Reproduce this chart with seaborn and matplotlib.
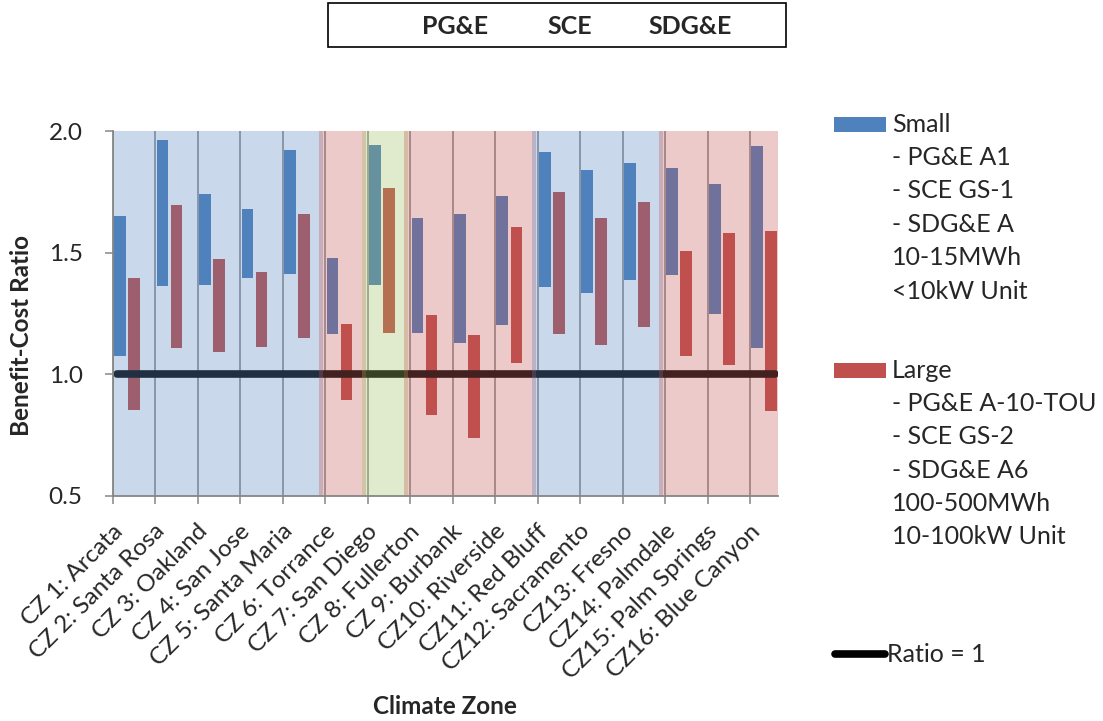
import numpy as np
import pandas as pd
import matplotlib
matplotlib.use("Agg")
import matplotlib.pyplot as plt
import matplotlib.transforms as mtransforms
from matplotlib.patches import Rectangle
from matplotlib.lines import Line2D
import seaborn as sns

# ---------------- data ----------------
zones = ["CZ 1: Arcata", "CZ 2: Santa Rosa", "CZ 3: Oakland", "CZ 4: San Jose",
         "CZ 5: Santa Maria", "CZ 6: Torrance", "CZ 7: San Diego", "CZ 8: Fullerton",
         "CZ 9: Burbank", "CZ10: Riverside", "CZ11: Red Bluff", "CZ12: Sacramento",
         "CZ13: Fresno", "CZ14: Palmdale", "CZ15: Palm Springs", "CZ16: Blue Canyon"]
utility = ["PG&E", "PG&E", "PG&E", "PG&E", "PG&E", "SCE", "SDG&E", "SCE",
           "SCE", "SCE", "PG&E", "PG&E", "PG&E", "SCE", "SCE", "SCE"]
small_low = [1.075, 1.363, 1.366, 1.394, 1.411, 1.164, 1.368, 1.170,
             1.128, 1.203, 1.357, 1.335, 1.388, 1.407, 1.248, 1.109]
small_high = [1.651, 1.962, 1.740, 1.680, 1.921, 1.478, 1.941, 1.644,
              1.659, 1.733, 1.914, 1.839, 1.870, 1.848, 1.781, 1.937]
large_low = [0.854, 1.109, 1.092, 1.112, 1.150, 0.895, 1.170, 0.834,
             0.739, 1.047, 1.166, 1.121, 1.195, 1.076, 1.039, 0.850]
large_high = [1.395, 1.695, 1.473, 1.420, 1.658, 1.206, 1.765, 1.243,
              1.161, 1.604, 1.748, 1.641, 1.707, 1.506, 1.580, 1.588]
ratio_one = 1.0
y_ticks = [0.5, 1.0, 1.5, 2.0]
utility_names = ["PG&E", "SCE", "SDG&E"]
small_legend = ["Small", "- PG&E A1", "- SCE GS-1", "- SDG&E A", "10-15MWh", "<10kW Unit"]
large_legend = ["Large", "- PG&E A-10-TOU", "- SCE GS-2", "- SDG&E A6", "100-500MWh", "10-100kW Unit"]
ratio_label = "Ratio = 1"

# ---------------- style ----------------
sns.set_theme(style="white")
plt.rcParams["font.family"] = ["Lato", "DejaVu Sans"]

BLUE = "#4F81BD"
RED = "#C0504D"
GREEN = "#9BBB59"
GRAY = "#868686"
util_color = {"PG&E": BLUE, "SCE": RED, "SDG&E": GREEN}

W, H = 1103, 721
fig = plt.figure(figsize=(W / 100, H / 100), dpi=100)
ax = fig.add_axes([113 / W, 1 - 496 / H, 665 / W, 365 / H])

x = np.arange(len(zones))
s_lo, s_hi = np.array(small_low), np.array(small_high)
l_lo, l_hi = np.array(large_low), np.array(large_high)

df_small = pd.DataFrame({"pos": x - 0.335, "span": s_hi - s_lo})
df_large = pd.DataFrame({"pos": x - 0.005, "span": l_hi - l_lo})

sns.barplot(data=df_small, x="pos", y="span", bottom=s_lo, native_scale=True,
            width=0.28, color=BLUE, saturation=1, errorbar=None, linewidth=0,
            zorder=2, ax=ax)
sns.barplot(data=df_large, x="pos", y="span", bottom=l_lo, native_scale=True,
            width=0.28, color=RED, saturation=1, errorbar=None, linewidth=0,
            zorder=2, ax=ax)

xmin, xmax = -0.5, 15.15
ax.set_xlim(xmin, xmax)
ax.set_ylim(0.5, 2.0)

# ratio = 1 line
ax.axhline(ratio_one, xmin=0.006, xmax=0.995, color="#0d0d0d", lw=5.5,
           solid_capstyle="round", zorder=3)

# utility overlay bands (contiguous runs)
runs = []
start = 0
for i in range(1, len(utility) + 1):
    if i == len(utility) or utility[i] != utility[start]:
        runs.append((start, i - 1, utility[start]))
        start = i
for a, b, u in runs:
    lo = max(a - 0.65, xmin)
    hi = min(b + 0.45, xmax)
    ax.axvspan(lo, hi, color=util_color[u], alpha=0.3, lw=0, zorder=4)

# axes styling
for side in ["top", "right"]:
    ax.spines[side].set_visible(False)
for side in ["left", "bottom"]:
    ax.spines[side].set_color(GRAY)
    ax.spines[side].set_linewidth(1.3)
    ax.spines[side].set_zorder(5)

ax.set_yticks(y_ticks)
ax.set_yticklabels([f"{v:.1f}" for v in y_ticks], fontsize=17.5)
ax.tick_params(axis="y", direction="out", length=5.8, width=1.1, color=GRAY,
               pad=16, left=True)

ax.set_xticks(x)
ax.set_xticklabels(zones, fontsize=17.5, rotation=45, ha="right", va="center",
                   rotation_mode="anchor")
ax.tick_params(axis="x", which="major", length=0, pad=23)
ax.set_xticks(np.arange(-0.5, 15.0, 1.0), minor=True)
ax.tick_params(axis="x", which="minor", direction="out", length=5.5, width=1.1,
               color=GRAY, bottom=True)
ax.grid(False)
ax.grid(which="minor", axis="x", color=GRAY, lw=1.1)
ax.set_axisbelow(True)
shift = mtransforms.ScaledTranslation(-15 / 100, 0, fig.dpi_scale_trans)
for lab in ax.get_xticklabels():
    lab.set_transform(lab.get_transform() + shift)
ax.set_xlabel("")
ax.set_ylabel("")

# axis titles
fig.text(22 / W, 1 - 335 / H, "Benefit-Cost Ratio", rotation=90, ha="center",
         va="center", fontsize=17.5, fontweight="bold")
fig.text(445 / W, 1 - 707 / H, "Climate Zone", ha="center", va="center",
         fontsize=17.5, fontweight="bold")

# top utility box
fig.patches.append(Rectangle((328 / W, 1 - 47 / H), (786 - 328) / W, 44 / H,
                             transform=fig.transFigure, fill=False,
                             edgecolor="black", lw=1.2))
for name, px in zip(utility_names, [455, 570, 690]):
    fig.text(px / W, 1 - 27 / H, name, ha="center", va="center", fontsize=18,
             fontweight="bold")

# right legend
def legend_block(lines, y0, color):
    fig.patches.append(Rectangle((834 / W, 1 - (y0 + 8) / H), 52 / W, 15 / H,
                                 transform=fig.transFigure, color=color, lw=0))
    for k, t in enumerate(lines):
        fig.text(892 / W, 1 - (y0 + k * 33.4) / H, t, ha="left", va="center",
                 fontsize=18)

legend_block(small_legend, 124, BLUE)
legend_block(large_legend, 370, RED)
fig.lines.append(Line2D([835 / W, 885 / W], [1 - 654 / H, 1 - 654 / H],
                        transform=fig.transFigure, color="black", lw=5.5,
                        solid_capstyle="round"))
fig.text(887 / W, 1 - 654 / H, ratio_label, ha="left", va="center", fontsize=18)

fig.savefig("out.png", dpi=100)
